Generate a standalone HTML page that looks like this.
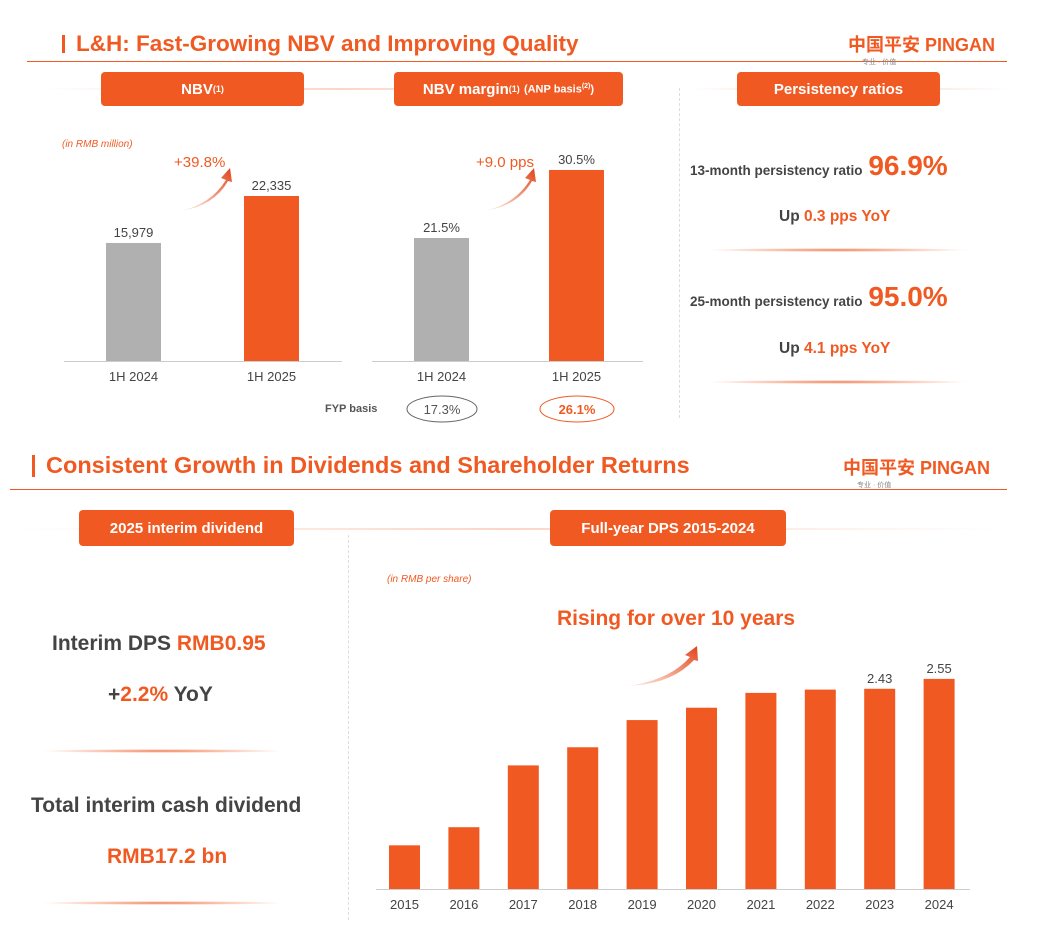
<!DOCTYPE html>
<html><head><meta charset="utf-8">
<style>
*{box-sizing:border-box;margin:0;padding:0}
body{width:1054px;height:936px;background:#fff;font-family:"Liberation Sans","Noto Sans CJK SC",sans-serif;position:relative;overflow:hidden;color:#444}
.abs{position:absolute}
.title{position:absolute;font-weight:bold;color:#f05a22;white-space:nowrap}
.hline{position:absolute;height:0;border-top:1px solid #f05a22}
.pill{position:absolute;background:#f05a22;color:#fff;font-weight:bold;font-size:15px;text-align:center;border-radius:4px;display:flex;align-items:center;justify-content:center}
.fade{position:absolute;height:2px;background:linear-gradient(90deg,rgba(240,90,34,0),rgba(240,90,34,.25),rgba(240,90,34,0))}
.glow{position:absolute;height:4px;background:radial-gradient(ellipse at center,rgba(240,90,34,.8),rgba(240,90,34,0) 70%)}
.logo{position:absolute;color:#f05a22;font-weight:bold;font-size:18px;white-space:nowrap}
.logo small{display:block;font-size:7px;color:#888;font-weight:normal;margin-left:14px}
svg text{font-family:"Liberation Sans",sans-serif}
</style></head><body>

<div class="title" style="left:76px;top:31px;font-size:22.5px">L&amp;H: Fast-Growing NBV and Improving Quality</div>
<div class="abs" style="left:62px;top:35px;width:3px;height:18px;background:#f05a22"></div>
<div class="hline" style="left:27px;top:61px;width:980px"></div>
<div class="logo" style="left:848px;top:31px">中国平安 PINGAN<small>专业 · 价值</small></div>

<div class="fade" style="left:40px;top:88px;width:600px"></div>
<div class="pill" style="left:101px;top:72px;width:203px;height:34px">NBV<sup style="font-size:9px">(1)</sup></div>
<div class="pill" style="left:394px;top:72px;width:229px;height:34px">NBV margin<sup style="font-size:9px">(1)</sup>&nbsp;<span style="font-size:11px">(ANP basis<sup style="font-size:7px">(2)</sup>)</span></div>
<div class="fade" style="left:690px;top:88px;width:320px"></div>
<div class="pill" style="left:737px;top:72px;width:203px;height:34px">Persistency ratios</div>
<div class="abs" style="left:679px;top:88px;height:330px;border-left:1px dashed #ddd"></div>

<svg class="abs" style="left:0;top:0" width="680" height="430">
<defs><linearGradient id="ag" x1="0" y1="1" x2="1" y2="0"><stop offset="0" stop-color="#f05a22" stop-opacity="0.1"/><stop offset="1" stop-color="#e0401a"/></linearGradient></defs>
<g id="nbv"></g><g id="mar"></g>
<text x="62" y="147" font-size="10" font-style="italic" fill="#f05a22">(in RMB million)</text>
<text x="174" y="167" font-size="15" fill="#f05a22">+39.8%</text>
<path d="M180 211 Q210 205 226 180 L221 178 L230 168 L232 182 L228 181 Q214 206 180 211Z" fill="url(#ag)"/>
<text x="476" y="167" font-size="15" fill="#f05a22">+9.0 pps</text>
<path d="M484 211 Q514 205 530 180 L525 178 L534 168 L536 182 L532 181 Q518 206 484 211Z" fill="url(#ag)"/>
<text x="325" y="412" font-size="11" font-weight="bold" fill="#555">FYP basis</text>
<ellipse cx="442" cy="409" rx="35" ry="13" fill="none" stroke="#666"/>
<text x="442" y="414" font-size="13" text-anchor="middle" fill="#555">17.3%</text>
<ellipse cx="577" cy="409" rx="37" ry="13" fill="none" stroke="#f05a22"/>
<text x="577" y="414" font-size="13" font-weight="bold" text-anchor="middle" fill="#f05a22">26.1%</text>
</svg>

<div class="abs" style="left:690px;top:150px;font-size:13.5px;font-weight:bold;color:#444;white-space:nowrap">13-month persistency ratio <span style="font-size:28px;color:#f05a22;margin-left:2px">96.9%</span></div>
<div class="abs" style="left:779px;top:208px;font-size:15.5px;font-weight:bold;color:#444">Up <span style="color:#f05a22">0.3 pps YoY</span></div>
<div class="glow" style="left:705px;top:248px;width:265px"></div>
<div class="abs" style="left:690px;top:281px;font-size:13.5px;font-weight:bold;color:#444;white-space:nowrap">25-month persistency ratio <span style="font-size:28px;color:#f05a22;margin-left:2px">95.0%</span></div>
<div class="abs" style="left:779px;top:340px;font-size:15.5px;font-weight:bold;color:#444">Up <span style="color:#f05a22">4.1 pps YoY</span></div>
<div class="glow" style="left:705px;top:380px;width:265px"></div>

<div class="title" style="left:46px;top:452px;font-size:23.5px">Consistent Growth in Dividends and Shareholder Returns</div>
<div class="abs" style="left:32px;top:455px;width:3px;height:22px;background:#f05a22"></div>
<div class="hline" style="left:10px;top:489px;width:997px"></div>
<div class="logo" style="left:843px;top:454px">中国平安 PINGAN<small>专业 · 价值</small></div>

<div class="fade" style="left:20px;top:528px;width:980px"></div>
<div class="pill" style="left:79px;top:510px;width:215px;height:36px">2025 interim dividend</div>
<div class="pill" style="left:550px;top:510px;width:236px;height:36px">Full-year DPS 2015-2024</div>
<div class="abs" style="left:348px;top:535px;height:385px;border-left:1px dashed #ddd"></div>

<div class="abs" style="left:52px;top:632px;font-size:21px;font-weight:bold;color:#444;white-space:nowrap">Interim DPS <span style="color:#f05a22">RMB0.95</span></div>
<div class="abs" style="left:108px;top:683px;font-size:21px;font-weight:bold;color:#444">+<span style="color:#f05a22">2.2%</span> YoY</div>
<div class="glow" style="left:40px;top:749px;width:245px"></div>
<div class="abs" style="left:31px;top:794px;font-size:21px;font-weight:bold;color:#444;white-space:nowrap">Total interim cash dividend</div>
<div class="abs" style="left:107px;top:845px;font-size:21px;font-weight:bold;color:#f05a22">RMB17.2 bn</div>
<div class="glow" style="left:40px;top:901px;width:245px"></div>

<svg class="abs" style="left:0;top:0" width="1054" height="936">
<text x="387" y="582" font-size="10" font-style="italic" fill="#f05a22">(in RMB per share)</text>
<text x="676" y="625" font-size="21" font-weight="bold" fill="#f05a22" text-anchor="middle">Rising for over 10 years</text>
<path d="M628 686 Q670 680 690 657 L685 655 L697 646 L698 661 L694 660 Q672 684 628 686Z" fill="url(#ag)"/>
<g id="dps"></g>
</svg>

<script>
const nbvCats=["1H  2024","1H 2025"];
const nbvVals=[15979,22335];
const nbvLabels=["15,979","22,335"];
const marCats=["1H 2024","1H 2025"];
const marVals=[21.5,30.5];
const marLabels=["21.5%","30.5%"];
const dpsYears=["2015","2016","2017","2018","2019","2020","2021","2022","2023","2024"];
const dpsVals=[0.53,0.75,1.50,1.72,2.05,2.20,2.38,2.42,2.43,2.55];
const dpsLabels=["","","","","","","","","2.43","2.55"];
const NS="http://www.w3.org/2000/svg";
function mk(g,t,a){const e=document.createElementNS(NS,t);for(const k in a)e.setAttribute(k,a[k]);g.appendChild(e);return e;}
function chart(g,cats,vals,labels,x0,step,bw,base,yfn,colors,axis,fs){
  mk(g,'line',{x1:axis[0],x2:axis[1],y1:base+0.5,y2:base+0.5,stroke:'#ccc'});
  cats.forEach((c,i)=>{
    const x=x0+i*step, y=yfn(vals[i]);
    const r=mk(g,'rect',{x:x,y:y,width:bw,height:base-y,fill:colors[i]});
    
    
    const t=mk(g,'text',{x:x+bw/2,y:base+20,'font-size':fs,'text-anchor':'middle',fill:'#444'});t.textContent=c;
    if(labels[i]){const l=mk(g,'text',{x:x+bw/2,y:y-6,'font-size':fs,'text-anchor':'middle',fill:'#444'});l.textContent=labels[i];}
  });
}
chart(document.getElementById('nbv'),nbvCats,nbvVals,nbvLabels,106,138,55,361,v=>361-v*165/22335,['#b0b0b0','#f05a22'],[64,342],13);
chart(document.getElementById('mar'),marCats,marVals,marLabels,414,135,55,361,v=>361-(v-5.23)*7.56,['#b0b0b0','#f05a22'],[372,643],13);
chart(document.getElementById('dps'),dpsYears,dpsVals,dpsLabels,389,59.4,31,889,v=>889-v*82.4,dpsYears.map(()=>'#f05a22'),[376,970],13);
</script>
</body></html>
